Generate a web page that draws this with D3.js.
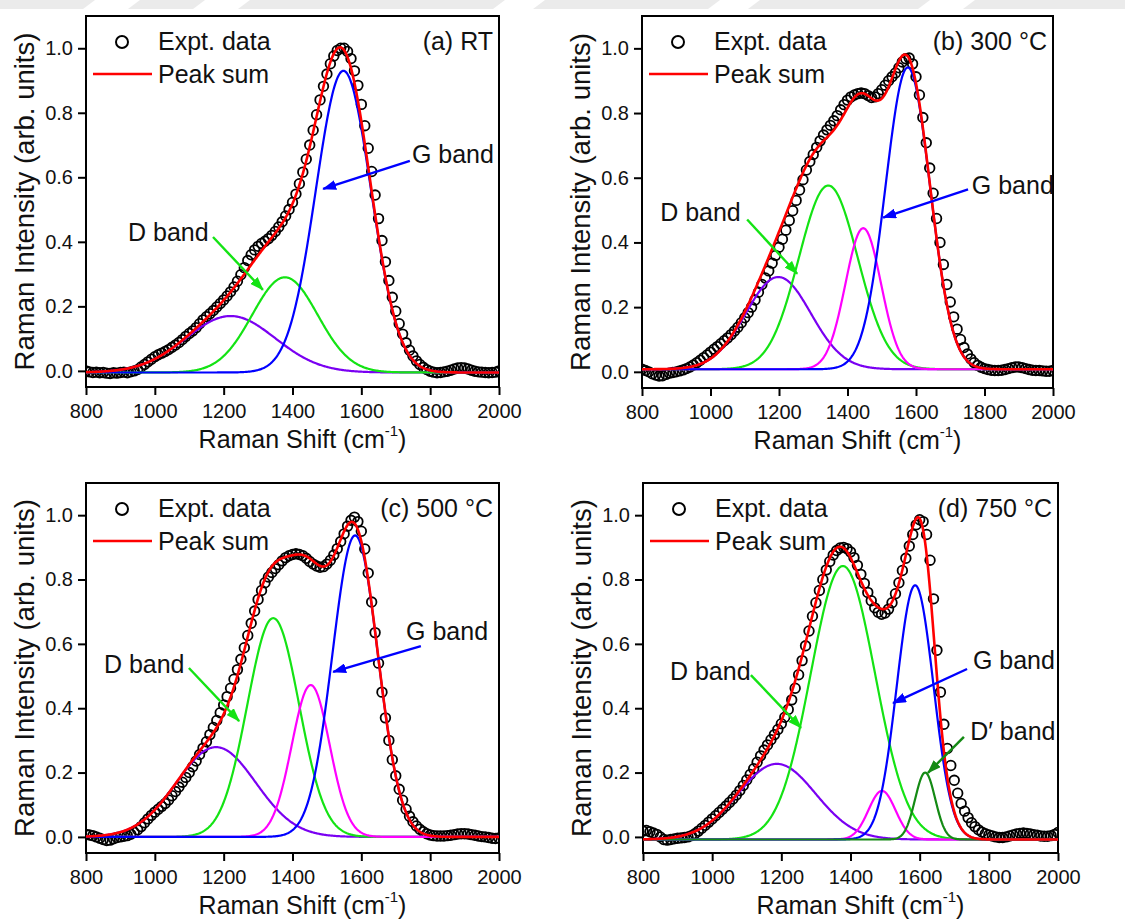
<!DOCTYPE html>
<html>
<head>
<meta charset="utf-8">
<script src="https://cdn.jsdelivr.net/npm/d3@7"></script>
<style>
  body { margin: 0; background: #fff; }
  svg { display: block; font-family: Arial, "Liberation Sans", sans-serif; }
</style>
</head>
<body>
<svg id="chart" width="1125" height="922"></svg>
<script>
// Raman shift grid of the measured spectra (cm^-1)
const shifts = d3.range(800, 2001, 10);

const exptA = [
  0.000, -0.003, -0.005, -0.004, -0.006, -0.005, -0.007, -0.008, -0.006, -0.007, -0.005, -0.004, -0.006, -0.003, 0.000,
  0.004, 0.012, 0.020, 0.028, 0.036, 0.044, 0.050, 0.055, 0.060, 0.066, 0.073, 0.080, 0.088, 0.097, 0.107, 0.116, 0.124, 0.134, 0.146, 0.158,
  0.168, 0.177, 0.187, 0.198, 0.209, 0.220, 0.232, 0.245, 0.260, 0.278, 0.298, 0.320, 0.342, 0.360, 0.375, 0.386, 0.395, 0.402, 0.410,
  0.420, 0.432, 0.446, 0.462, 0.480, 0.500, 0.522, 0.548, 0.580, 0.616, 0.656, 0.700, 0.746, 0.794, 0.840, 0.882, 0.920, 0.952, 0.976, 0.993, 1.000, 1.000, 0.990,
  0.968, 0.930, 0.885, 0.826, 0.760, 0.690, 0.618, 0.545, 0.472, 0.404, 0.338, 0.280, 0.228, 0.185, 0.146, 0.114, 0.087, 0.064, 0.046, 0.031, 0.020, 0.011, 0.004, -0.001,
  -0.004, -0.006, -0.005, -0.003, -0.001, 0.002, 0.006, 0.009, 0.010, 0.009, 0.006, 0.002, -0.001, -0.003, -0.004, -0.005, -0.006, -0.005, -0.004, 0.000
];
const exptB = [
  0.008, 0.004, 0.000, -0.006, -0.010, -0.013, -0.012, -0.008, -0.004, -0.002, 0.000, 0.003, 0.006, 0.010, 0.015,
  0.021, 0.028, 0.036, 0.044, 0.052, 0.061, 0.070, 0.078, 0.087, 0.096, 0.105, 0.115, 0.126, 0.138, 0.152, 0.167, 0.183, 0.200, 0.222, 0.246,
  0.270, 0.290, 0.312, 0.336, 0.360, 0.385, 0.410, 0.438, 0.468, 0.498, 0.530, 0.562, 0.594, 0.624, 0.650, 0.672, 0.694, 0.714, 0.732,
  0.748, 0.762, 0.776, 0.792, 0.810, 0.826, 0.840, 0.850, 0.856, 0.860, 0.862, 0.860, 0.854, 0.848, 0.850, 0.860, 0.872, 0.886, 0.900, 0.912, 0.924, 0.940, 0.958,
  0.968, 0.970, 0.952, 0.912, 0.856, 0.786, 0.708, 0.630, 0.552, 0.474, 0.400, 0.332, 0.270, 0.216, 0.170, 0.132, 0.100, 0.075, 0.055, 0.040, 0.028, 0.020, 0.014, 0.010,
  0.007, 0.005, 0.004, 0.004, 0.005, 0.007, 0.010, 0.013, 0.015, 0.015, 0.013, 0.010, 0.007, 0.005, 0.004, 0.004, 0.003, 0.002, 0.002, 0.004
];
const exptC = [
  0.008, 0.006, 0.004, 0.000, -0.004, -0.008, -0.011, -0.010, -0.006, -0.002, 0.000, 0.002, 0.004, 0.008, 0.014,
  0.022, 0.032, 0.044, 0.056, 0.067, 0.077, 0.086, 0.095, 0.104, 0.115, 0.128, 0.141, 0.155, 0.170, 0.185, 0.200, 0.218, 0.236, 0.256, 0.276,
  0.296, 0.318, 0.340, 0.362, 0.386, 0.410, 0.436, 0.462, 0.490, 0.520, 0.552, 0.588, 0.626, 0.664, 0.702, 0.738, 0.766, 0.790, 0.808,
  0.822, 0.834, 0.846, 0.858, 0.868, 0.874, 0.878, 0.880, 0.878, 0.874, 0.866, 0.856, 0.848, 0.842, 0.838, 0.840, 0.848, 0.860, 0.876, 0.896, 0.918, 0.942, 0.966,
  0.984, 0.994, 0.980, 0.950, 0.895, 0.820, 0.730, 0.635, 0.540, 0.450, 0.370, 0.300, 0.240, 0.190, 0.148, 0.114, 0.086, 0.064, 0.047, 0.034, 0.024, 0.016, 0.010, 0.006,
  0.004, 0.003, 0.003, 0.003, 0.004, 0.005, 0.007, 0.009, 0.010, 0.010, 0.009, 0.007, 0.005, 0.003, 0.001, 0.000, -0.002, -0.004, -0.005, -0.003
];
const exptD = [
  0.018, 0.020, 0.016, 0.012, 0.008, 0.000, -0.008, -0.010, -0.008, -0.006, -0.004, -0.003, -0.002, 0.000, 0.004,
  0.010, 0.018, 0.027, 0.036, 0.046, 0.056, 0.066, 0.076, 0.086, 0.096, 0.107, 0.118, 0.130, 0.144, 0.160, 0.177, 0.194, 0.212, 0.232, 0.252,
  0.270, 0.286, 0.302, 0.318, 0.334, 0.352, 0.372, 0.396, 0.426, 0.462, 0.504, 0.548, 0.594, 0.640, 0.686, 0.728, 0.766, 0.800, 0.830,
  0.856, 0.876, 0.890, 0.898, 0.900, 0.896, 0.886, 0.868, 0.844, 0.816, 0.788, 0.760, 0.734, 0.712, 0.698, 0.692, 0.696, 0.708, 0.728, 0.756, 0.790, 0.828, 0.866,
  0.904, 0.940, 0.970, 0.986, 0.980, 0.940, 0.860, 0.740, 0.580, 0.450, 0.350, 0.275, 0.222, 0.176, 0.136, 0.104, 0.080, 0.060, 0.044, 0.032, 0.022, 0.015, 0.010, 0.006,
  0.003, 0.000, -0.002, -0.002, 0.000, 0.003, 0.006, 0.009, 0.011, 0.012, 0.011, 0.009, 0.007, 0.005, 0.003, 0.002, 0.002, 0.004, 0.008, 0.014
];

// fitted Gaussian components: band, centre (cm^-1), height, sigma (cm^-1)
const peaksA = [
  { band: 'D4', center: 1220, height: 0.175, sigma: 130 },
  { band: 'D',  center: 1378, height: 0.295, sigma: 95 },
  { band: 'G',  center: 1548, height: 0.935, sigma: 80 }
];
const peaksB = [
  { band: 'D4', center: 1198, height: 0.285, sigma: 95 },
  { band: 'D',  center: 1344, height: 0.568, sigma: 86 },
  { band: 'D3', center: 1446, height: 0.436, sigma: 52 },
  { band: 'G',  center: 1576, height: 0.933, sigma: 65 }
];
const peaksC = [
  { band: 'D4', center: 1178, height: 0.279, sigma: 115 },
  { band: 'D',  center: 1344, height: 0.680, sigma: 75 },
  { band: 'D3', center: 1453, height: 0.472, sigma: 55 },
  { band: 'G',  center: 1582, height: 0.937, sigma: 66 }
];
const peaksD = [
  { band: 'D4', center: 1187, height: 0.235, sigma: 112 },
  { band: 'D',  center: 1378, height: 0.850, sigma: 93 },
  { band: 'D3', center: 1491, height: 0.151, sigma: 39 },
  { band: 'G',  center: 1587, height: 0.790, sigma: 53 },
  { band: 'D2', center: 1616, height: 0.208, sigma: 29 }
];
// fitted baseline level of each spectrum
const baselines = [-0.005, 0.008, 0.000, -0.008];

const titles = ['(a) RT', '(b) 300 \u00b0C', '(c) 500 \u00b0C', '(d) 750 \u00b0C'];

// arrow labels, in data coordinates: text anchor, arrow tail, arrow head
const notesA = [
  { text: 'D band', band: 'D', tx: 922, ty: 0.402, x1: 1169, y1: 0.415, x2: 1314, y2: 0.251 },
  { text: 'G band', band: 'G', tx: 1747, ty: 0.644, x1: 1741, y1: 0.651, x2: 1489, y2: 0.564 }
];
const notesB = [
  { text: 'D band', band: 'D', tx: 853, ty: 0.465, x1: 1107, y1: 0.471, x2: 1253, y2: 0.303 },
  { text: 'G band', band: 'G', tx: 1763, ty: 0.551, x1: 1752, y1: 0.564, x2: 1504, y2: 0.477 }
];
const notesC = [
  { text: 'D band', band: 'D', tx: 852, ty: 0.509, x1: 1099, y1: 0.525, x2: 1245, y2: 0.360 },
  { text: 'G band', band: 'G', tx: 1730, ty: 0.612, x1: 1773, y1: 0.593, x2: 1518, y2: 0.513 }
];
const notesD = [
  { text: 'D band', band: 'D', tx: 878, ty: 0.488, x1: 1112, y1: 0.503, x2: 1257, y2: 0.339 },
  { text: 'G band', band: 'G', tx: 1754, ty: 0.522, x1: 1737, y1: 0.522, x2: 1523, y2: 0.416 },
  { text: 'D\u2032 band', band: 'D2', tx: 1746, ty: 0.301, x1: 1728, y1: 0.311, x2: 1624, y2: 0.199 }
];

const xTicks = [800, 1000, 1200, 1400, 1600, 1800, 2000];
const yTicks = [0, 0.2, 0.4, 0.6, 0.8, 1.0];
const xDomain = [800, 2000];
const yDomain = [-0.05, 1.1];

// styling / layout
const bandColor = { D4: '#7a00f2', D: '#14e314', D3: '#ff00ff', G: '#0000ff', D2: '#148a14' };
const frames = [
  { left: 86, top: 16, w: 413, h: 371 },
  { left: 642, top: 16, w: 411, h: 372 },
  { left: 86, top: 483, w: 413, h: 370 },
  { left: 643, top: 483, w: 415, h: 370 }
];
const FONT = 'Arial, "Liberation Sans", sans-serif';

const panels = [
  { expt: exptA, peaks: peaksA, notes: notesA },
  { expt: exptB, peaks: peaksB, notes: notesB },
  { expt: exptC, peaks: peaksC, notes: notesC },
  { expt: exptD, peaks: peaksD, notes: notesD }
].map((p, i) => ({ ...p, base: baselines[i], title: titles[i], frame: frames[i] }));

const svg = d3.select('#chart');
const defs = svg.append('defs');

// faint watermark strip along the top edge
const wm = svg.append('g');
wm.append('rect').attr('x', 0).attr('y', 0).attr('width', 1125).attr('height', 9).attr('fill', '#ebebeb');
[[95, 140], [205, 250], [505, 545], [720, 760], [930, 975]].forEach(([a, b]) => {
  wm.append('path').attr('d', `M${a},0L${b},0L${b - 12},9L${a - 12},9Z`).attr('fill', '#fff');
});

Object.entries(bandColor).forEach(([k, c]) => {
  defs.append('marker')
    .attr('id', 'arr-' + k)
    .attr('viewBox', '0 0 14 10')
    .attr('refX', 13).attr('refY', 5)
    .attr('markerWidth', 14).attr('markerHeight', 10)
    .attr('markerUnits', 'userSpaceOnUse')
    .attr('orient', 'auto')
    .append('path').attr('d', 'M0,0L14,5L0,10Z').attr('fill', c);
});

const gauss = (pk, s) => pk.height * Math.exp(-0.5 * ((s - pk.center) / pk.sigma) ** 2);
const fine = d3.range(800, 2000.01, 2);

panels.forEach((p, i) => {
  const f = p.frame;
  const x = d3.scaleLinear().domain(xDomain).range([f.left, f.left + f.w]);
  const y = d3.scaleLinear().domain(yDomain).range([f.top + f.h, f.top]);
  const g = svg.append('g');

  const clipId = 'clip' + i;
  defs.append('clipPath').attr('id', clipId)
    .append('rect').attr('x', f.left).attr('y', f.top).attr('width', f.w).attr('height', f.h);

  // axes
  const ax = g.append('g')
    .attr('transform', `translate(0,${f.top + f.h})`)
    .call(d3.axisBottom(x).tickValues(xTicks).tickSize(8).tickSizeOuter(0).tickPadding(9).tickFormat(d3.format('d')));
  const ay = g.append('g')
    .attr('transform', `translate(${f.left},0)`)
    .call(d3.axisLeft(y).tickValues(yTicks).tickSize(8).tickSizeOuter(0).tickPadding(5).tickFormat(d3.format('.1f')));
  [ax, ay].forEach(a => {
    a.select('.domain').remove();
    a.attr('font-family', FONT).attr('font-size', 20);
    a.selectAll('.tick line').attr('stroke', '#000').attr('stroke-width', 2);
    a.selectAll('.tick text').attr('fill', '#111');
  });

  // frame
  g.append('rect')
    .attr('x', f.left).attr('y', f.top).attr('width', f.w).attr('height', f.h)
    .attr('fill', 'none').attr('stroke', '#000').attr('stroke-width', 2);

  const plot = g.append('g').attr('clip-path', `url(#${clipId})`);

  // experimental points
  plot.append('g').selectAll('circle')
    .data(p.expt.map((v, k) => [shifts[k], v]))
    .join('circle')
    .attr('cx', d => x(d[0]))
    .attr('cy', d => y(d[1]))
    .attr('r', 4.8)
    .attr('fill', 'none')
    .attr('stroke', '#000')
    .attr('stroke-width', 1.8);

  // components
  const line = d3.line().x(d => x(d[0])).y(d => y(d[1]));
  p.peaks.forEach(pk => {
    plot.append('path')
      .datum(fine.map(s => [s, p.base + gauss(pk, s)]))
      .attr('d', line)
      .attr('fill', 'none')
      .attr('stroke', bandColor[pk.band])
      .attr('stroke-width', 2.2);
  });

  // peak sum
  plot.append('path')
    .datum(fine.map(s => [s, p.base + d3.sum(p.peaks, pk => gauss(pk, s))]))
    .attr('d', line)
    .attr('fill', 'none')
    .attr('stroke', '#ff0000')
    .attr('stroke-width', 2.6);

  // axis titles
  g.append('text')
    .attr('transform', `translate(${f.left - 52},${f.top + f.h / 2}) rotate(-90)`)
    .attr('text-anchor', 'middle')
    .attr('font-size', 27.5)
    .attr('fill', '#111')
    .text('Raman Intensity (arb. units)');

  const xt = g.append('text')
    .attr('x', f.left + f.w / 2 + 10)
    .attr('y', f.top + f.h + 61)
    .attr('text-anchor', 'middle')
    .attr('font-size', 25)
    .attr('fill', '#111');
  xt.append('tspan').text('Raman Shift (cm');
  xt.append('tspan').attr('font-size', 15).attr('dy', -12).text('-1');
  xt.append('tspan').attr('dy', 12).text(')');

  // legend
  g.append('circle')
    .attr('cx', f.left + 36).attr('cy', f.top + 26).attr('r', 6)
    .attr('fill', '#fff').attr('stroke', '#000').attr('stroke-width', 2);
  g.append('text')
    .attr('x', f.left + 72).attr('y', f.top + 34)
    .attr('font-size', 25).attr('fill', '#111').text('Expt. data');
  g.append('line')
    .attr('x1', f.left + 7).attr('x2', f.left + 66)
    .attr('y1', f.top + 58).attr('y2', f.top + 58)
    .attr('stroke', '#ff0000').attr('stroke-width', 2.6);
  g.append('text')
    .attr('x', f.left + 72).attr('y', f.top + 67)
    .attr('font-size', 25).attr('fill', '#111').text('Peak sum');

  // panel title
  g.append('text')
    .attr('x', f.left + f.w - 6).attr('y', f.top + 34)
    .attr('text-anchor', 'end')
    .attr('font-size', 25).attr('fill', '#111').text(p.title);

  // arrow labels
  p.notes.forEach(n => {
    g.append('line')
      .attr('x1', x(n.x1)).attr('y1', y(n.y1))
      .attr('x2', x(n.x2)).attr('y2', y(n.y2))
      .attr('stroke', bandColor[n.band]).attr('stroke-width', 2.4)
      .attr('marker-end', `url(#arr-${n.band})`);
    g.append('text')
      .attr('x', x(n.tx)).attr('y', y(n.ty))
      .attr('font-size', 25).attr('fill', '#111').text(n.text);
  });
});
</script>
</body>
</html>
